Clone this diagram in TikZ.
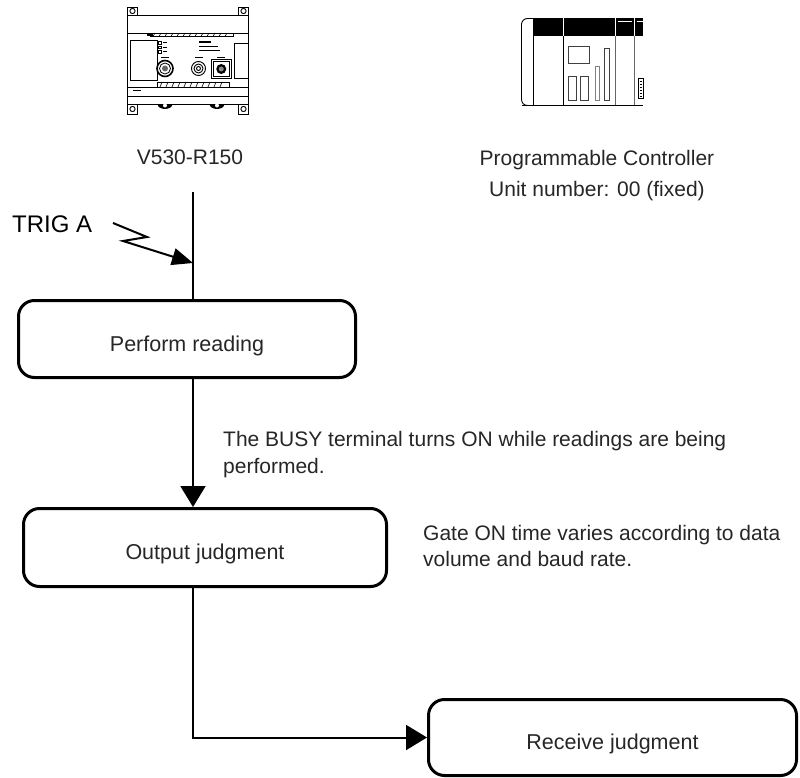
\documentclass[tikz,border=0pt]{standalone}
\usepackage{fontspec}
\setmainfont{Liberation Sans}
\usetikzlibrary{arrows.meta}
\begin{document}
\begin{tikzpicture}[x=1pt,y=-1pt,
  flowbox/.style={draw, line width=3pt, rounded corners=16pt, inner sep=0pt,
    font=\fontsize{21.5}{26}\selectfont, text=black!85,
    text height=24pt, text depth=0pt},
  note/.style={font=\fontsize{21}{26.5}\selectfont, align=left,
    anchor=north west, inner sep=0pt, text=black!85},
  caption/.style={font=\fontsize{21}{31}\selectfont, align=center,
    anchor=north, inner sep=0pt, text=black!85},
  link/.style={line width=2pt},
  head/.style={-{Triangle[length=21pt,width=25pt]}},
  unit/.style={line width=0.9pt},
]
\useasboundingbox (0,0) rectangle (800,778);

% ---------- V530-R150 reader ----------
\begin{scope}[unit]
  \draw (127.5,15) rectangle (248.5,104);
  \foreach \x in {127.5,238.5} {
    \draw (\x,7) rectangle ++(10,8);
    \draw (\x+5,11) circle[radius=2.6pt];
    \draw (\x,104) rectangle ++(10,10);
    \draw (\x+5,109) circle[radius=2.6pt];
  }
  \draw (127.5,33) -- (248.5,33);
  \draw (127.5,87) -- (248.5,87);
  \draw (127.5,96.5) -- (248.5,96.5);
  % terminal strips
  \draw (150,33) rectangle (233,36.5);
  \foreach \x in {155,161,...,230} \draw[line width=0.6pt] (\x,33) -- (\x-2,36.5);
  \fill (147,33.3) rectangle (153,36.5);
  \draw (157,82) rectangle (229,87);
  \foreach \x in {162,168,...,226} \draw[line width=0.6pt] (\x,82) -- (\x-2,87);
  % side recesses
  \draw (130.5,40) rectangle (157,80);
  \draw[line width=0.6pt] (133,90) -- (141,90);
  \draw (234,43) rectangle (248.5,78);
  % indicators and maker text
  \foreach \y in {41.5,46,50.5} {
    \draw[line width=0.6pt] (158.5,\y) rectangle ++(3,2.5);
    \draw[line width=0.6pt] (163,\y+1.2) -- (167,\y+1.2);
  }
  \draw[line width=1.2pt] (199,42) -- (211,42);
  \draw[line width=1pt] (199,46.5) -- (218,46.5);
  \draw[line width=1pt] (199,51) -- (220,51);
  % connector labels
  \foreach \x in {165,198.5,221} \draw[line width=0.8pt] (\x-4,57) -- (\x+4,57);
  % connectors
  \draw[line width=1.6pt] (165,68.5) circle[radius=8pt];
  \draw[line width=0.8pt] (165,68.5) circle[radius=5.5pt];
  \fill[black!60] (165,68.5) circle[radius=3pt];
  \draw (198.5,68.5) circle[radius=7pt];
  \draw (198.5,68.5) circle[radius=4.5pt];
  \draw (198.5,68.5) circle[radius=2pt];
  \draw (211.5,59.5) rectangle (231,78.5);
  \draw[line width=0.6pt] (213.5,61.5) rectangle (229,76.5);
  \fill (221.25,69) circle[radius=5pt];
  \fill[black!45] (221.25,69) circle[radius=2.5pt];
  % mounting clips
  \begin{scope}
    \clip (120,104.4) rectangle (260,116);
    \foreach \x in {165,217} {
      \fill (\x,104) ellipse[x radius=7.5pt, y radius=5pt];
      \fill[white] (\x,105.5) circle[radius=2pt];
    }
  \end{scope}
\end{scope}

% ---------- Programmable Controller ----------
\begin{scope}[unit]
  \draw[rounded corners=6pt] (533,18.5) -- (521.5,18.5) -- (521.5,105.5) -- (533,105.5);
  \fill (533,18.5) rectangle (643,36.5);
  \foreach \x in {563.3,615,634.3} \draw[white, line width=0.8pt] (\x,18.5) -- (\x,36.5);
  \draw[white, line width=1.3pt] (617.5,21.5) -- (632,21.5);
  \draw[white, line width=1.3pt] (636.5,21.5) -- (643,21.5);
  \draw (521.5,105.5) -- (643,105.5);
  \draw (533,36.5) -- (533,105.5);
  \draw (563.3,36.5) -- (563.3,105.5);
  \draw[black!60] (615,36.5) -- (615,105.5);
  \draw[black!60] (634.3,36.5) -- (634.3,105.5);
  \begin{scope}[draw=black!75]
    \draw (568.3,46.7) rectangle (589,63.3);
    \draw (568.3,76.7) rectangle (576.7,100.7);
    \draw (580,76.7) rectangle (588.3,100.7);
    \draw[black!50] (595,66) rectangle (599.3,100.7);
    \draw (604.3,48.3) rectangle (609.3,100.7);
  \end{scope}
  \draw (638.5,78) rectangle (643,98);
  \foreach \y in {81,84,...,96} \draw[line width=0.6pt] (639.5,\y) -- (642,\y);
\end{scope}

% ---------- captions ----------
\node[caption] (readercap) at (190,150) {V530-R150};
\node[caption] (plccap) at (597,150) {Programmable Controller\\Unit number: 00 (fixed)};

% ---------- flow boxes ----------
\node[flowbox, minimum width=337pt, minimum height=77pt] (perform) at (187,339) {Perform reading};
\node[flowbox, minimum width=363pt, minimum height=78pt] (output) at (205,547.5) {Output judgment};
\node[flowbox, minimum width=368pt, minimum height=76pt] (receive) at (612.5,737.5) {Receive judgment};

% ---------- notes ----------
\node[note] (busy) at (223,431.5) {The BUSY terminal turns ON while readings are being\\performed.};
\node[note] (gate) at (423,525) {Gate ON time varies according to data\\volume and baud rate.};

% ---------- trigger input ----------
\node[font=\fontsize{24}{28}\selectfont, anchor=base west, inner sep=0pt] (trig) at (12,233) {TRIG A};
\coordinate (spine) at (193,192);
\coordinate (z0) at (113,223);
\coordinate (z1) at (147,237);
\coordinate (z2) at (123,241);
\coordinate (hit) at (193,263);

% ---------- connectors ----------
\draw[link] (spine) -- (perform.north -| spine);
\draw[link, -{Triangle[length=21pt,width=17pt]}] (z0) -- (z1) -- (z2) -- (hit);
\draw[link, head] (perform.south -| spine) -- (output.north -| spine);
\draw[link, head] (output.south -| spine) |- (receive.west);
\end{tikzpicture}
\end{document}
